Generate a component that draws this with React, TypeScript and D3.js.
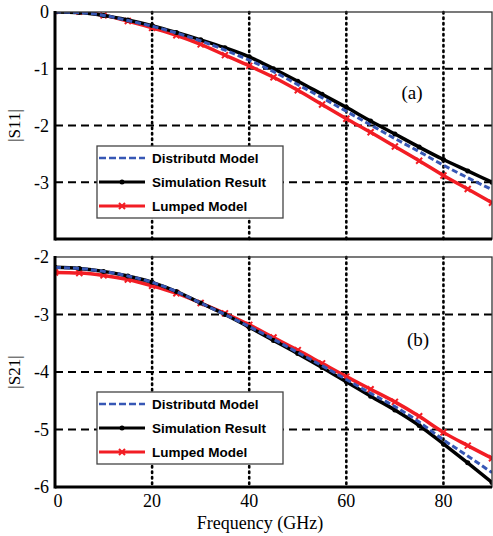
import React from 'react';
import * as d3 from 'd3';

// frequency samples (GHz)
const freq = [0, 5, 10, 15, 20, 25, 30, 35, 40, 45, 50, 55, 60, 65, 70, 75, 80, 85, 90];

// |S11|
const s11Sim = [0, -0.01, -0.06, -0.14, -0.24, -0.36, -0.49, -0.63, -0.79, -1.0, -1.22, -1.45, -1.68, -1.92, -2.15, -2.38, -2.6, -2.8, -3.0];
const s11Dist = [0, -0.01, -0.06, -0.15, -0.25, -0.37, -0.51, -0.67, -0.85, -1.05, -1.28, -1.51, -1.75, -1.99, -2.23, -2.46, -2.7, -2.92, -3.13];
const s11Lump = [0.02, 0.01, -0.06, -0.16, -0.28, -0.41, -0.57, -0.76, -0.95, -1.15, -1.38, -1.63, -1.88, -2.12, -2.37, -2.62, -2.88, -3.12, -3.36];

// |S21|
const s21Sim = [-2.18, -2.2, -2.25, -2.33, -2.44, -2.6, -2.8, -3.0, -3.22, -3.45, -3.68, -3.92, -4.17, -4.42, -4.66, -4.93, -5.25, -5.58, -5.92];
const s21Dist = [-2.18, -2.2, -2.25, -2.33, -2.44, -2.6, -2.8, -3.0, -3.21, -3.43, -3.66, -3.89, -4.13, -4.37, -4.6, -4.87, -5.18, -5.46, -5.75];
const s21Lump = [-2.27, -2.28, -2.32, -2.39, -2.5, -2.63, -2.8, -2.98, -3.18, -3.4, -3.62, -3.85, -4.08, -4.3, -4.52, -4.77, -5.05, -5.28, -5.5];

const xTicks = [0, 20, 40, 60, 80];
const s11Ticks = [0, -1, -2, -3];
const s21Ticks = [-2, -3, -4, -5, -6];
const legendNames = ['Distributd Model', 'Simulation Result', 'Lumped Model'];

const W = 493;
const H = 536;
const left = 55;
const right = 492;
const serif = '"Liberation Serif", "Times New Roman", serif';
const sans = '"Liberation Sans", Arial, sans-serif';

const x = d3.scaleLinear().domain([0, 90]).range([left, right]);

function Panel({ top, bottom, domain, ticks, sim, dist, lump, label, tag, tagPos, legendY, showX }) {
  const y = d3.scaleLinear().domain(domain).range([bottom, top]);
  const line = d3.line<number>().x((d, i) => x(freq[i])).y(d => y(d)).curve(d3.curveMonotoneX);
  const id = 'clip' + tag;
  const lx = 97;
  const lw = 186;
  const lh = 72;
  return (
    <g>
      <defs>
        <clipPath id={id}>
          <rect x={left} y={top} width={right - left} height={bottom - top} />
        </clipPath>
      </defs>
      {/* grid */}
      {xTicks.filter(t => t > 0).map(t => (
        <line key={'vx' + t} x1={x(t)} x2={x(t)} y1={top} y2={bottom} stroke="#000" strokeWidth={2.6}
          strokeDasharray="1.5,4" strokeLinecap="round" />
      ))}
      {ticks.filter(t => t !== domain[0] && t !== domain[1]).map(t => (
        <line key={'hy' + t} x1={left} x2={right} y1={y(t)} y2={y(t)} stroke="#000" strokeWidth={2}
          strokeDasharray="8,5" />
      ))}
      <g clipPath={`url(#${id})`}>
        <path d={line(lump)} fill="none" stroke="#f21d24" strokeWidth={3.5} />
        {lump.map((v, i) => (
          <path key={'lm' + i} transform={`translate(${x(freq[i])},${y(v)})`} d="M-3,-3L3,3M-3,3L3,-3"
            stroke="#f21d24" strokeWidth={2} />
        ))}
        <path d={line(sim)} fill="none" stroke="#000" strokeWidth={3.5} />
        {sim.map((v, i) => (
          <circle key={'sm' + i} cx={x(freq[i])} cy={y(v)} r={2.5} fill="#000" />
        ))}
        <path d={line(dist)} fill="none" stroke="#3757b5" strokeWidth={3} strokeDasharray="6,3" />
      </g>
      {/* frame */}
      <rect x={left} y={top} width={right - left} height={bottom - top} fill="none" stroke="#333" strokeWidth={1.3} />
      <line x1={left} x2={left} y1={top - 1} y2={bottom + 1.5} stroke="#000" strokeWidth={3} />
      <line x1={left} x2={right} y1={bottom} y2={bottom} stroke="#000" strokeWidth={3} />
      {ticks.map(t => (
        <text key={'yt' + t} x={left - 6} y={y(t)} dy="0.35em" textAnchor="end" fontFamily={serif} fontSize={18}>
          {t === 0 ? '0' : '-' + Math.abs(t)}
        </text>
      ))}
      {showX && xTicks.map(t => (
        <text key={'xt' + t} x={x(t) + (t === 0 ? 3 : 0)} y={bottom + 20} textAnchor="middle" fontFamily={serif} fontSize={18}>{t}</text>
      ))}
      <text transform={`translate(20,${(top + bottom) / 2}) rotate(-90)`} textAnchor="middle" fontFamily={serif} fontSize={17}>
        {label}
      </text>
      <text x={tagPos[0]} y={tagPos[1]} textAnchor="middle" dy="0.35em" fontFamily={serif} fontSize={19}>({tag})</text>
      {/* legend */}
      <rect x={lx} y={legendY} width={lw} height={lh} fill="#fff" stroke="#444" strokeWidth={1.3} />
      {legendNames.map((n, i) => {
        const ey = legendY + 12 + i * 24;
        const col = i === 0 ? '#3757b5' : i === 1 ? '#000' : '#f21d24';
        return (
          <g key={n}>
            <line x1={lx + 2} x2={lx + 48} y1={ey} y2={ey} stroke={col} strokeWidth={i === 0 ? 2.5 : 3}
              strokeDasharray={i === 0 ? '7,3' : undefined} />
            {i === 1 && <circle cx={lx + 25} cy={ey} r={2.5} fill="#000" />}
            {i === 2 && <path transform={`translate(${lx + 25},${ey})`} d="M-3,-3L3,3M-3,3L3,-3" stroke={col} strokeWidth={2} />}
            <text x={lx + 55} y={ey} dy="0.36em" fontFamily={sans} fontWeight="bold" fontSize={13.5}>{n}</text>
          </g>
        );
      })}
    </g>
  );
}

export default function App() {
  return (
    <svg width={W} height={H} style={{ position: 'absolute', left: 0, top: 0, background: '#fff' }}>
      <rect width={W} height={H} fill="#fff" />
      <Panel top={12} bottom={239} domain={[-4, 0]} ticks={s11Ticks} sim={s11Sim} dist={s11Dist} lump={s11Lump}
        label="|S11|" tag="a" tagPos={[412, 92]} legendY={146} showX={false} />
      <Panel top={257} bottom={487} domain={[-6, -2]} ticks={s21Ticks} sim={s21Sim} dist={s21Dist} lump={s21Lump}
        label="|S21|" tag="b" tagPos={[418, 339]} legendY={392} showX={true} />
      <text x={260} y={529} textAnchor="middle" fontFamily={serif} fontSize={18}>Frequency (GHz)</text>
    </svg>
  );
}
